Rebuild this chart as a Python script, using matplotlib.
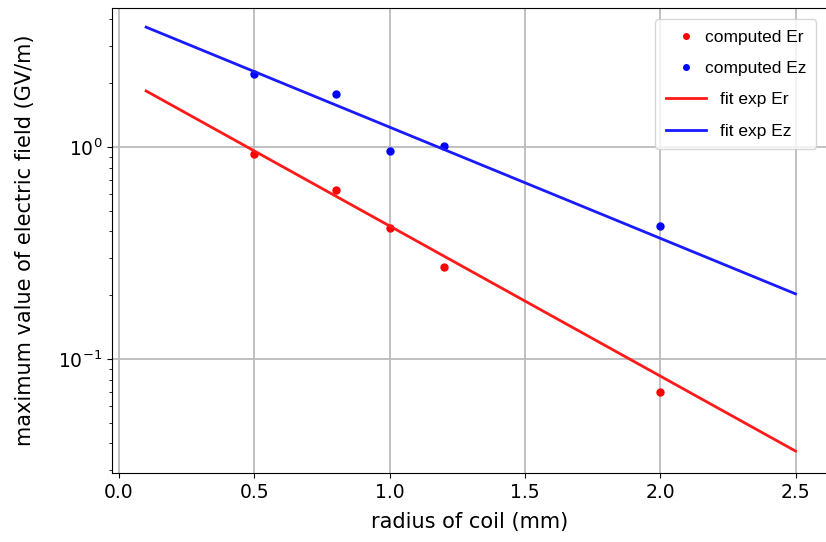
import matplotlib
matplotlib.use("Agg")
import matplotlib.pyplot as plt
from matplotlib.transforms import ScaledTranslation

radius = [0.5, 0.8, 1.0, 1.2, 2.0]
er_values = [0.927, 0.627, 0.414, 0.271, 0.070]
ez_values = [2.21, 1.78, 0.954, 1.01, 0.424]

fit_x = [0.1, 2.5]
fit_er = [1.84, 0.0368]
fit_ez = [3.68, 0.203]

fig = plt.figure(figsize=(8.26, 5.42), dpi=100)
ax = fig.add_axes([112/826, 69/542, 716/826, 465/542])

ax.plot(radius, er_values, 'o', color='red', markersize=5, label='computed Er')
ax.plot(radius, ez_values, 'o', color='blue', markersize=5, label='computed Ez')
ax.plot(fit_x, fit_er, '-', color='#ff1a1a', linewidth=2, label='fit exp Er')
ax.plot(fit_x, fit_ez, '-', color='#1a1aff', linewidth=2, label='fit exp Ez')

ax.set_yscale('log')
ax.set_xlim(-0.026, 2.62)
ax.set_ylim(0.029, 4.53)
ax.set_xticks([0.0, 0.5, 1.0, 1.5, 2.0, 2.5])
ax.tick_params(labelsize=13.5)
ax.grid(True, which='major', color='#bbbbbb', linewidth=1.3)
ax.set_xlabel('radius of coil (mm)', fontsize=15)
ax.set_ylabel('maximum value of electric field (GV/m)', fontsize=15)
ax.yaxis.set_label_coords(-0.1075, 0.5)
ax.xaxis.set_label_coords(0.5, -0.084)

leg = ax.legend(loc='upper right', bbox_to_anchor=(0.99, 0.985),
                prop={'family': 'Liberation Sans', 'size': 12.5},
                labelspacing=0.93, handlelength=2.35, handletextpad=-0.1,
                borderpad=0.6, borderaxespad=0.25, markerscale=0.8)
shift = ScaledTranslation(15/100, 0, fig.dpi_scale_trans)
for t in leg.get_texts()[2:]:
    t.set_transform(t.get_transform() + shift)

fig.savefig('out.png', dpi=100)
